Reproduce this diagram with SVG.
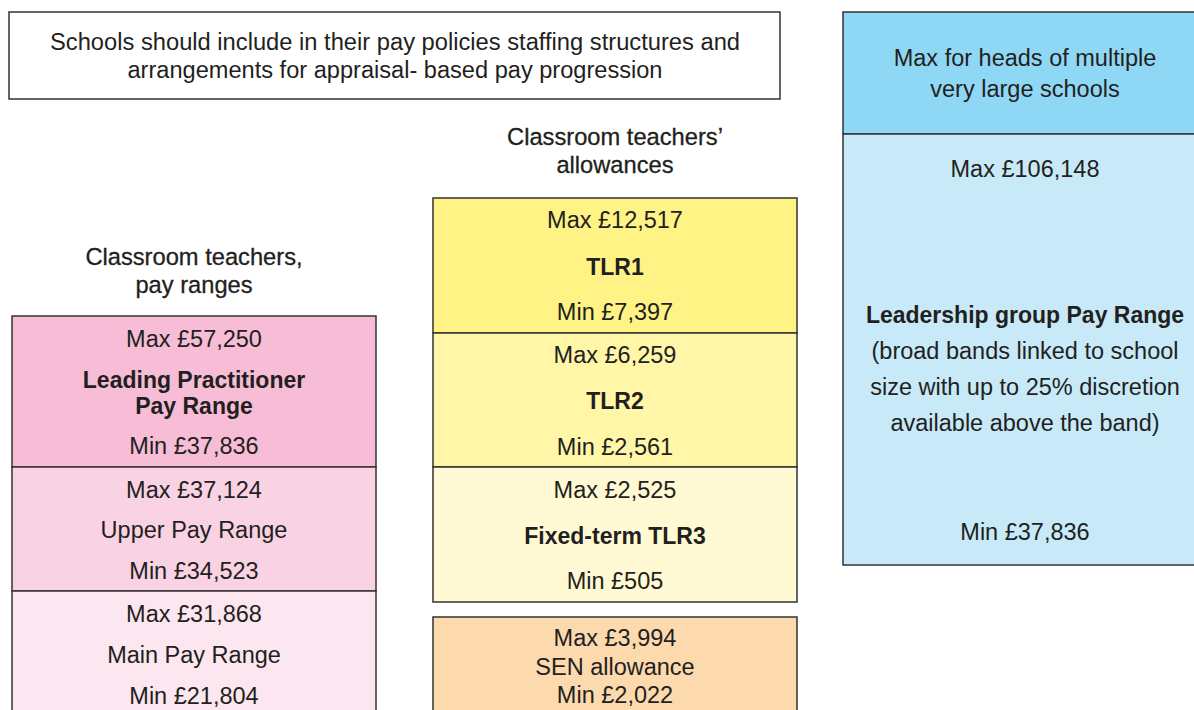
<svg xmlns="http://www.w3.org/2000/svg" width="1194" height="710" viewBox="0 0 1194 710">
<style>
text{font-family:"Liberation Sans",Arial,sans-serif;font-size:23.5px;fill:#231f20;text-anchor:middle}
.b{font-weight:bold;font-size:23px}
.h{font-size:23.7px;stroke:#231f20;stroke-width:0.3}
.box{stroke:#333;stroke-width:1.5}
</style>
<rect width="1194" height="710" fill="#fff"/>
<g id="policy">
<rect x="9" y="12" width="771" height="87" fill="#fff" class="box"/>
<text x="395" y="50" font-size="21" textLength="690" lengthAdjust="spacingAndGlyphs">Schools should include in their pay policies staffing structures and</text>
<text x="395" y="78" font-size="21" textLength="535" lengthAdjust="spacingAndGlyphs">arrangements for appraisal- based pay progression</text>
</g>
<g id="heading-left">
<text x="194" y="265" class="h">Classroom teachers,</text>
<text x="194" y="293" class="h">pay ranges</text>
</g>
<g id="heading-mid">
<text x="615" y="145" class="h">Classroom teachers’</text>
<text x="615" y="173" class="h">allowances</text>
</g>
<g id="leading">
<rect x="12" y="316" width="364" height="151" fill="#f7bdd6" class="box"/>
<text x="194" y="347">Max £57,250</text>
<text x="194" y="388" class="b">Leading Practitioner</text>
<text x="194" y="414" class="b">Pay Range</text>
<text x="194" y="454">Min £37,836</text>
</g>
<g id="upper">
<rect x="12" y="467" width="364" height="124" fill="#f9d3e3" class="box"/>
<text x="194" y="498">Max £37,124</text>
<text x="194" y="538">Upper Pay Range</text>
<text x="194" y="579">Min £34,523</text>
</g>
<g id="main">
<rect x="12" y="591" width="364" height="130" fill="#fce6ef" class="box"/>
<text x="194" y="622">Max £31,868</text>
<text x="194" y="663">Main Pay Range</text>
<text x="194" y="704">Min £21,804</text>
</g>
<g id="tlr1">
<rect x="433" y="198" width="364" height="135" fill="#fff385" class="box"/>
<text x="615" y="228">Max £12,517</text>
<text x="615" y="275" class="b">TLR1</text>
<text x="615" y="320">Min £7,397</text>
</g>
<g id="tlr2">
<rect x="433" y="333" width="364" height="134" fill="#fff6a8" class="box"/>
<text x="615" y="363">Max £6,259</text>
<text x="615" y="409" class="b">TLR2</text>
<text x="615" y="455">Min £2,561</text>
</g>
<g id="tlr3">
<rect x="433" y="467" width="364" height="135" fill="#fffad3" class="box"/>
<text x="615" y="498">Max £2,525</text>
<text x="615" y="544" class="b">Fixed-term TLR3</text>
<text x="615" y="589">Min £505</text>
</g>
<g id="sen">
<rect x="433" y="617" width="364" height="104" fill="#fdd9ae" class="box"/>
<text x="615" y="646">Max £3,994</text>
<text x="615" y="675">SEN allowance</text>
<text x="615" y="703">Min £2,022</text>
</g>
<g id="heads">
<rect x="843" y="12" width="360" height="122" fill="#8fd8f5" class="box"/>
<text x="1025" y="66">Max for heads of multiple</text>
<text x="1025" y="97">very large schools</text>
</g>
<g id="leadership">
<rect x="843" y="134" width="360" height="431" fill="#c7e9f8" class="box"/>
<text x="1025" y="177">Max £106,148</text>
<text x="1025" y="323" class="b">Leadership group Pay Range</text>
<text x="1025" y="359">(broad bands linked to school</text>
<text x="1025" y="395">size with up to 25% discretion</text>
<text x="1025" y="431">available above the band)</text>
<text x="1025" y="540">Min £37,836</text>
</g>
<g id="connectors"/>
</svg>
